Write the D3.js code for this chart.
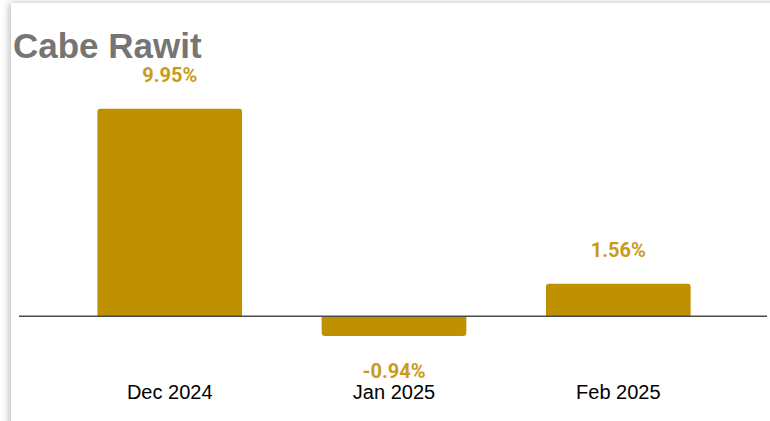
<!DOCTYPE html>
<html>
<head>
<meta charset="utf-8">
<script src="https://cdn.jsdelivr.net/npm/d3@7"></script>
<style>
  html, body { margin: 0; padding: 0; background: #ffffff; }
  svg { display: block; }
</style>
</head>
<body>
<svg id="chart" width="770" height="421"></svg>
<script>
// Monthly price change of cabe rawit (bird's eye chili), in percent
const months = ["Dec 2024", "Jan 2025", "Feb 2025"];
const changes = [9.95, -0.94, 1.56];
const title = "Cabe Rawit";

const W = 770, H = 421;
const barColor = "#BF9000";
const labelColor = "#C89B1A";

const svg = d3.select("#chart");

// card with soft shadow
const defs = svg.append("defs");
const f = defs.append("filter").attr("id", "cardShadow")
  .attr("x", "-5%").attr("y", "-5%").attr("width", "110%").attr("height", "110%");
f.append("feDropShadow").attr("dx", -2).attr("dy", 0)
  .attr("stdDeviation", 3.5).attr("flood-color", "#000").attr("flood-opacity", 0.26);

svg.append("rect")
  .attr("x", 11).attr("y", 3)
  .attr("width", W + 20).attr("height", H + 20)
  .attr("fill", "#ffffff")
  .attr("filter", "url(#cardShadow)");

// title
svg.append("text")
  .attr("x", 13).attr("y", 58)
  .attr("font-family", "'Liberation Sans', Arial, sans-serif")
  .attr("font-weight", "bold")
  .attr("font-size", 35)
  .attr("fill", "#757575")
  .text(title);

// scales
const x = d3.scaleBand()
  .domain(months)
  .range([57, 731])
  .paddingInner(0.355)
  .paddingOuter(0.18);

const y = d3.scaleLinear()
  .domain([-2, 12])
  .range([358, 66]);

// bar with rounded outer corners (top for gains, bottom for losses)
function barPath(d, i) {
  const x0 = x(months[i]), w = x.bandwidth();
  const y0 = y(0), y1 = y(d);
  const r = Math.min(3, Math.abs(y1 - y0));
  if (d >= 0) {
    return `M${x0},${y0}V${y1 + r}Q${x0},${y1} ${x0 + r},${y1}` +
           `H${x0 + w - r}Q${x0 + w},${y1} ${x0 + w},${y1 + r}V${y0}Z`;
  }
  return `M${x0},${y0}V${y1 - r}Q${x0},${y1} ${x0 + r},${y1}` +
         `H${x0 + w - r}Q${x0 + w},${y1} ${x0 + w},${y1 - r}V${y0}Z`;
}

svg.append("g")
  .selectAll("path")
  .data(changes)
  .join("path")
  .attr("d", barPath)
  .attr("fill", barColor);

// zero line
svg.append("line")
  .attr("x1", 19).attr("x2", 767)
  .attr("y1", y(0)).attr("y2", y(0))
  .attr("stroke", "#4a4a4a")
  .attr("stroke-width", 1.6);

// value labels
svg.append("g")
  .selectAll("text")
  .data(changes)
  .join("text")
  .attr("x", (d, i) => x(months[i]) + x.bandwidth() / 2)
  .attr("y", d => d >= 0 ? y(d) - 27 : y(d) + 42)
  .attr("text-anchor", "middle")
  .attr("font-family", "Roboto, 'Open Sans', sans-serif")
  .attr("font-weight", "bold")
  .attr("font-size", 20)
  .attr("fill", labelColor)
  .text(d => d.toFixed(2) + "%");

// category axis
const xAxis = svg.append("g")
  .attr("transform", "translate(0,385)")
  .call(d3.axisBottom(x).tickSize(0).tickPadding(0));
xAxis.select(".domain").remove();
xAxis.selectAll("text")
  .attr("font-family", "'Liberation Sans', Arial, sans-serif")
  .attr("font-size", 20)
  .attr("fill", "#000");
</script>
</body>
</html>
